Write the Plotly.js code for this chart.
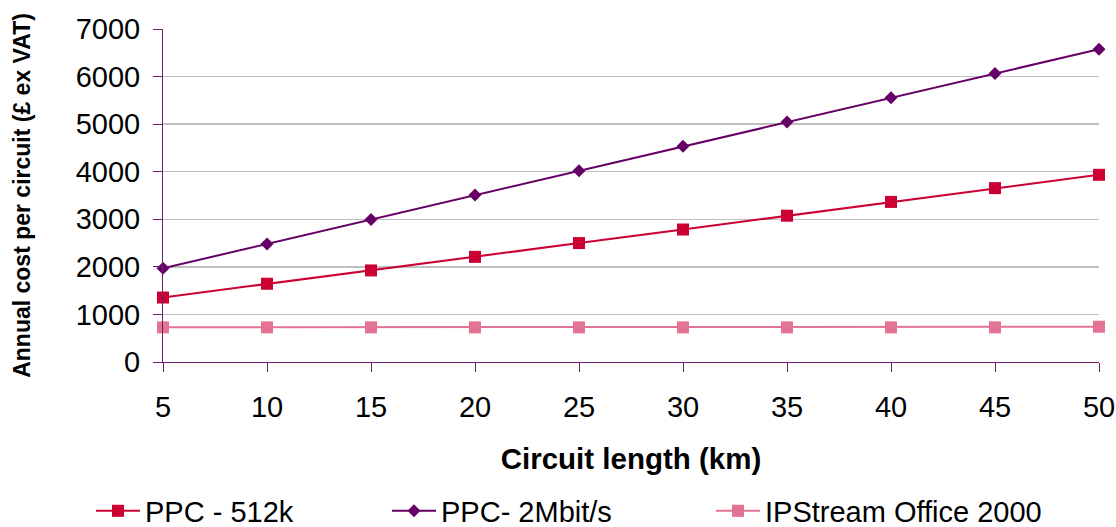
<!DOCTYPE html>
<html>
<head>
<meta charset="utf-8">
<script src="https://cdn.plot.ly/plotly-3.0.1.min.js"></script>
<style>html,body{margin:0;padding:0;background:#fff;}#chart{width:1116px;height:527px;}</style>
</head>
<body>
<div id="chart"></div>
<script>
const circuitLength = [5, 10, 15, 20, 25, 30, 35, 40, 45, 50];
const ppc512k = [1355, 1645, 1925, 2210, 2500, 2785, 3075, 3365, 3655, 3935];
const ppc2M = [1970, 2480, 2995, 3510, 4020, 4535, 5045, 5555, 6065, 6575];
const ipstream = [728, 728, 728, 728, 728, 728, 728, 728, 728, 742];
const seriesNames = ["PPC - 512k", "PPC- 2Mbit/s", "IPStream Office 2000"];
const yTicks = [0, 1000, 2000, 3000, 4000, 5000, 6000, 7000];

const font = "Liberation Sans, Arial, sans-serif";
const axisColor = "#6b1f6b";

const traces = [
  {x: circuitLength, y: ppc512k, name: seriesNames[0], mode: "lines+markers", legend: "legend",
   line: {color: "#cc0033", width: 2}, marker: {symbol: "square", size: 12, color: "#cc0033"}, cliponaxis: false},
  {x: circuitLength, y: ppc2M, name: seriesNames[1], mode: "lines+markers", legend: "legend2",
   line: {color: "#660066", width: 2}, marker: {symbol: "diamond", size: 10, color: "#660066"}, cliponaxis: false},
  {x: circuitLength, y: ipstream, name: seriesNames[2], mode: "lines+markers", legend: "legend3",
   line: {color: "#e37393", width: 2}, marker: {symbol: "square", size: 12, color: "#e37393"}, cliponaxis: false}
];

function legendAt(px) {
  return {
    orientation: "h", xref: "container", yref: "container",
    x: px / 1116, xanchor: "left", y: 16 / 527, yanchor: "middle",
    font: {family: font, size: 29}, itemwidth: 44,
    bgcolor: "rgba(0,0,0,0)"
  };
}

const layout = {
  width: 1116, height: 527,
  margin: {l: 163, r: 17, t: 29, b: 165},
  paper_bgcolor: "#fff", plot_bgcolor: "#fff",
  font: {family: font, color: "#000", size: 29},
  showlegend: true,
  xaxis: {
    range: [5, 50], tickvals: circuitLength, ticktext: circuitLength.map(String),
    showgrid: false, zeroline: false, showline: true, linecolor: axisColor, linewidth: 1,
    ticks: "outside", ticklen: 9, tickcolor: axisColor, ticklabelstandoff: 10,
    tickfont: {family: font, size: 29},
    title: {text: "<b>Circuit length (km)</b>", font: {family: font, size: 29.5}, standoff: 26}
  },
  yaxis: {
    range: [0, 7000], tickvals: yTicks,
    showgrid: true, gridcolor: "#c0c0c0", gridwidth: 1.5,
    zeroline: false, showline: true, linecolor: axisColor, linewidth: 1,
    ticks: "outside", ticklen: 9, tickcolor: axisColor, ticklabelstandoff: 7,
    tickfont: {family: font, size: 29},
    title: {text: "<b>Annual cost per circuit (£ ex VAT)</b>", font: {family: font, size: 23}, standoff: 38}
  },
  legend: legendAt(91),
  legend2: legendAt(387),
  legend3: legendAt(711)
};

Plotly.newPlot("chart", traces, layout, {displayModeBar: false, staticPlot: true});
</script>
</body>
</html>
